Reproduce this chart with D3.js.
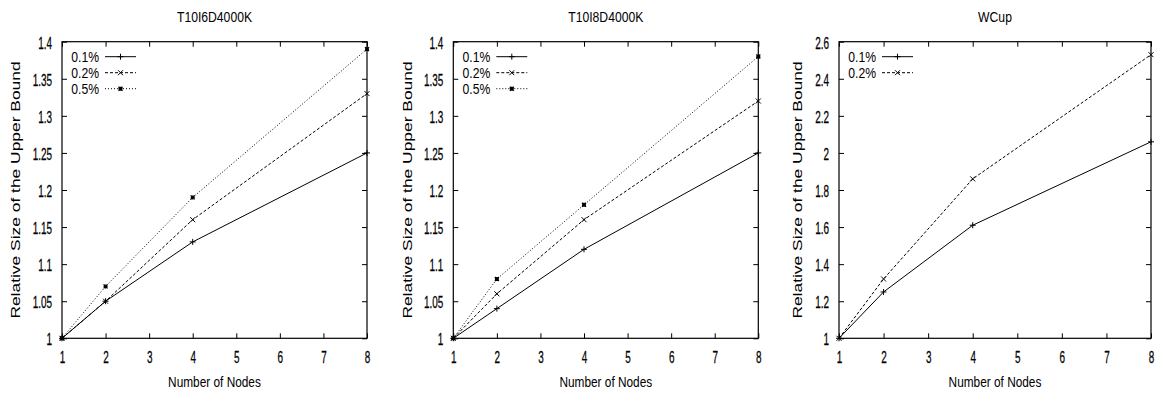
<!DOCTYPE html>
<html>
<head>
<meta charset="utf-8">
<script src="https://cdn.jsdelivr.net/npm/d3@7/dist/d3.min.js"></script>
<style>
  body { margin: 0; background: #fff; }
  svg { display: block; }
  text { font-family: "Liberation Sans", Arial, Helvetica, sans-serif; fill: #000; }
</style>
</head>
<body>
<script>
// x values (number of nodes) and x tick labels
var nodes = [1, 2, 4, 8];
var xTicks = [1, 2, 3, 4, 5, 6, 7, 8];

// chart titles and series names
var titles = ["T10I6D4000K", "T10I8D4000K", "WCup"];
var seriesNames = ["0.1%", "0.2%", "0.5%"];

// T10I6D4000K
var t6_01 = [1, 1.05, 1.13, 1.25];
var t6_02 = [1, 1.05, 1.16, 1.33];
var t6_05 = [1, 1.07, 1.19, 1.39];

// T10I8D4000K
var t8_01 = [1, 1.04, 1.12, 1.25];
var t8_02 = [1, 1.06, 1.16, 1.32];
var t8_05 = [1, 1.08, 1.18, 1.38];

// WCup
var wc_01 = [1, 1.25, 1.61, 2.06];
var wc_02 = [1, 1.32, 1.86, 2.53];

// y tick labels
var yTicksT = ["1", "1.05", "1.1", "1.15", "1.2", "1.25", "1.3", "1.35", "1.4"];
var yTicksW = ["1", "1.2", "1.4", "1.6", "1.8", "2", "2.2", "2.4", "2.6"];

var panels = [
    { title: titles[0], series: [t6_01, t6_02, t6_05], yTicks: yTicksT, left: 62, right: 367, ylab: 19.5 },
    { title: titles[1], series: [t8_01, t8_02, t8_05], yTicks: yTicksT, left: 453.3, right: 758.3, ylab: 412 },
    { title: titles[2], series: [wc_01, wc_02], yTicks: yTicksW, left: 839, right: 1151, ylab: 802 }
];

var plotTop = 41.7, plotBottom = 338.3;
var dashes = [null, "3,2", "1,2"];

var svg = d3.select("body").append("svg")
    .attr("width", 1158)
    .attr("height", 396);

// marker shapes: +, x, *
function marker(k) {
    if (k == 0) {
        var s = 3;
        return "M" + (-s) + ",0H" + s + "M0," + (-s) + "V" + s;
    }
    if (k == 1) {
        var c = 2.5;
        return "M" + (-c) + "," + (-c) + "L" + c + "," + c + "M" + (-c) + "," + c + "L" + c + "," + (-c);
    }
    var t = 2;
    return "M" + (-t) + ",0H" + t + "M0," + (-t) + "V" + t +
        "M" + (-t) + "," + (-t) + "L" + t + "," + t + "M" + (-t) + "," + t + "L" + t + "," + (-t);
}

panels.forEach(function (p) {
    var yMin = +p.yTicks[0], yMax = +p.yTicks[p.yTicks.length - 1];

    var x = d3.scaleLinear().domain([1, 8]).range([p.left, p.right]);
    var y = d3.scaleLinear().domain([yMin, yMax]).range([plotBottom, plotTop]);

    var g = svg.append("g");

    // axes with inward ticks
    var gx = g.append("g")
        .attr("transform", "translate(0," + plotBottom + ")")
        .call(d3.axisBottom(x).tickValues(xTicks).tickSize(-5).tickSizeOuter(0).tickPadding(0)
            .tickFormat(d3.format("d")));
    gx.selectAll("text")
        .attr("y", 0).attr("dy", null)
        .attr("transform", "translate(0,25) scale(0.62,1)")
        .style("font-size", "16px")
        .style("stroke", "#000").style("stroke-width", 0.25);

    g.append("g")
        .attr("transform", "translate(0," + plotTop + ")")
        .call(d3.axisTop(x).tickValues(xTicks).tickSize(-5).tickSizeOuter(0).tickFormat(""));

    var gy = g.append("g")
        .attr("transform", "translate(" + p.left + ",0)")
        .call(d3.axisLeft(y).tickValues(p.yTicks.map(Number)).tickSize(-5).tickSizeOuter(0)
            .tickFormat(function (d, i) { return p.yTicks[i]; }));
    gy.selectAll("text")
        .attr("x", 0).attr("dy", null)
        .attr("transform", "translate(-10,6.5) scale(0.62,1)")
        .style("font-size", "16px")
        .style("stroke", "#000").style("stroke-width", 0.25);

    g.append("g")
        .attr("transform", "translate(" + p.right + ",0)")
        .call(d3.axisRight(y).tickValues(p.yTicks.map(Number)).tickSize(-5).tickSizeOuter(0).tickFormat(""));

    g.selectAll(".domain").remove();
    g.selectAll(".tick line").attr("stroke", "#000");

    // frame
    g.append("rect")
        .attr("x", p.left).attr("y", plotTop)
        .attr("width", p.right - p.left).attr("height", plotBottom - plotTop)
        .attr("fill", "none").attr("stroke", "#000").attr("stroke-width", 1.2);

    // series lines and markers
    var line = d3.line()
        .x(function (d, i) { return x(nodes[i]); })
        .y(function (d) { return y(d); });

    p.series.forEach(function (s, k) {
        g.append("path")
            .datum(s)
            .attr("d", line)
            .attr("fill", "none")
            .attr("stroke", "#000")
            .attr("stroke-width", 1)
            .attr("stroke-dasharray", dashes[k]);

        g.selectAll(".pt" + k)
            .data(s)
            .enter().append("path")
            .attr("class", "pt" + k)
            .attr("transform", function (d, i) { return "translate(" + x(nodes[i]) + "," + y(d) + ")"; })
            .attr("d", marker(k))
            .attr("fill", "none")
            .attr("stroke", "#000")
            .attr("stroke-width", k == 2 ? 1.3 : 1);

        // legend
        var ly = plotTop + 20 + k * 16;
        g.append("text")
            .attr("transform", "translate(" + (p.left + 37) + "," + ly + ") scale(0.87,1)")
            .attr("text-anchor", "end")
            .style("font-size", "14px")
            .text(seriesNames[k]);
        g.append("line")
            .attr("x1", p.left + 43).attr("x2", p.left + 74)
            .attr("y1", ly - 5).attr("y2", ly - 5)
            .attr("stroke", "#000").attr("stroke-width", 1)
            .attr("stroke-dasharray", dashes[k]);
        g.append("path")
            .attr("transform", "translate(" + (p.left + 58.5) + "," + (ly - 5) + ")")
            .attr("d", marker(k))
            .attr("fill", "none").attr("stroke", "#000").attr("stroke-width", k == 2 ? 1.3 : 1);
    });

    // title
    g.append("text")
        .attr("transform", "translate(" + ((p.left + p.right) / 2) + ",21.7) scale(0.87,1)")
        .attr("text-anchor", "middle")
        .style("font-size", "14px")
        .text(p.title);

    // x label
    g.append("text")
        .attr("transform", "translate(" + ((p.left + p.right) / 2) + ",387.3) scale(0.79,1)")
        .attr("text-anchor", "middle")
        .style("font-size", "15px")
        .text("Number of Nodes");

    // y label
    g.append("text")
        .attr("transform", "translate(" + p.ylab + "," + ((plotTop + plotBottom) / 2) + ") scale(0.72,1) rotate(-90)")
        .attr("text-anchor", "middle")
        .style("font-size", "17.4px")
        .text("Relative Size of the Upper Bound");
});
</script>
</body>
</html>
